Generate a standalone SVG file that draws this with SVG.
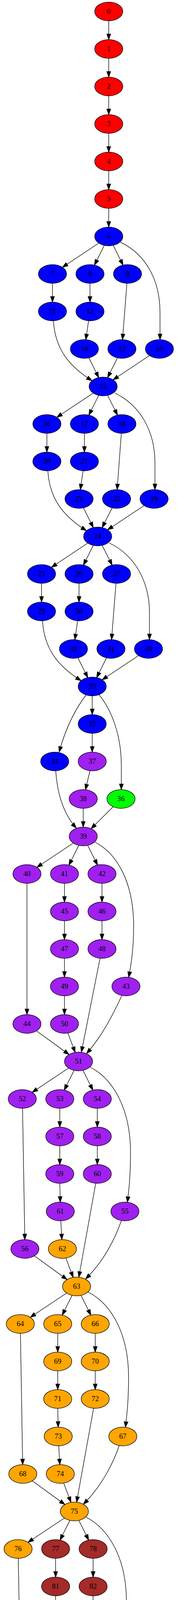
<svg xmlns="http://www.w3.org/2000/svg" width="476" height="6587" viewBox="0 0 476 6587">
<style>
.n ellipse{stroke:#000;stroke-width:1.33}
.n text{font-family:"Liberation Serif","Times New Roman",serif;font-size:18.67px;text-anchor:middle;fill:#000}
.red{fill:#ff0000}.blue{fill:#0000ff}.purple{fill:#a020f0}.green{fill:#00ff00}.orange{fill:#ffa500}.brown{fill:#a52a2a}.choc{fill:#d2691e}.crim{fill:#dc143c}
#edges path{fill:none;stroke:#000;stroke-width:1.33;marker-end:url(#ah)}
</style>
<defs>
<marker id="ah" markerUnits="userSpaceOnUse" markerWidth="14" markerHeight="10" refX="13.33" refY="4.67" orient="auto" overflow="visible" viewBox="0 0 13.33 9.33">
<path d="M0,0 L13.33,4.67 L0,9.33 Z" fill="#000" stroke="#000" stroke-width="1.33"/>
</marker>
</defs>
<rect x="0" y="0" width="476" height="6587" fill="#fff"/>
<g id="edges">
<path d="M278.3,53.3 L278.3,101.3"/>
<path d="M278.3,149.3 L278.3,197.3"/>
<path d="M278.3,245.3 L278.3,293.3"/>
<path d="M278.3,341.3 L278.3,389.3"/>
<path d="M278.3,437.3 L278.3,485.3"/>
<path d="M278.3,533.3 L278.3,581.3"/>
<path d="M252.8,622.3 L159.8,684.3"/>
<path d="M266.9,628.1 L241.7,678.5"/>
<path d="M289.7,628.1 L314.9,678.5"/>
<path d="M308.3,620.2 C375,652 409.5,720 409.5,800 L409.5,869.3"/>
<path d="M134.3,725.3 L134.3,773.3"/>
<path d="M230.3,725.3 L230.3,773.3"/>
<path d="M324.8,725.3 L313.5,869.3"/>
<path d="M136.7,821.3 C141,891 174,936 235.5,974.5"/>
<path d="M226.7,821.2 L219.6,869.4"/>
<path d="M227.4,916.1 L252.6,966.5"/>
<path d="M300.6,916.1 L275.4,966.5"/>
<path d="M382.5,910.3 L289.5,972.3"/>
<path d="M238.5,1006.3 L145.5,1068.3"/>
<path d="M252.6,1012.1 L227.4,1062.5"/>
<path d="M275.4,1012.1 L300.6,1062.5"/>
<path d="M293.5,1006 C360,1038 396.5,1105 396.5,1185 L396.5,1253.3"/>
<path d="M120,1109.3 L120,1157.3"/>
<path d="M216,1109.3 L216,1157.3"/>
<path d="M310.5,1109.3 L299.8,1253.3"/>
<path d="M122.4,1205.3 C126.7,1275 159.7,1320 221.2,1358.5"/>
<path d="M212.6,1205.1 L205.7,1253.5"/>
<path d="M213.6,1300.1 L238.7,1350.5"/>
<path d="M287,1300.1 L261.3,1350.5"/>
<path d="M368.8,1294.3 L275.5,1356.3"/>
<path d="M224.5,1390.3 L131.8,1452.3"/>
<path d="M238.7,1396.1 L213.6,1446.5"/>
<path d="M261.3,1396.1 L287,1446.5"/>
<path d="M279.5,1390 C346,1422 382.5,1489 382.5,1569 L382.5,1637.3"/>
<path d="M106.3,1493.3 L106.3,1541.3"/>
<path d="M202.3,1493.3 L202.3,1541.3"/>
<path d="M296.8,1493.3 L285.5,1637.3"/>
<path d="M108.7,1589.3 C113,1659 146,1704 207.5,1742.5"/>
<path d="M198.7,1589.2 L191.6,1637.4"/>
<path d="M199.4,1684.1 L224.6,1734.5"/>
<path d="M272.6,1684.1 L247.4,1734.5"/>
<path d="M354.5,1678.3 L261.5,1740.3"/>
<path d="M220,1779.5 C195,1812 168,1862 151.5,1925.3"/>
<path d="M236,1781.3 L236,1829.3"/>
<path d="M254,1779 C285,1818 310.5,1880 310.5,1960 L310.5,2021.3"/>
<path d="M236,1877.3 L236,1925.3"/>
<path d="M230.3,1973 L218.7,2021.6"/>
<path d="M142.7,1973.5 C147,2040 166,2087 195.3,2120"/>
<path d="M213,2069.3 L213,2117.3"/>
<path d="M289.6,2065.2 L233.1,2121.4"/>
<path d="M187.5,2158.3 L94.5,2220.3"/>
<path d="M201.6,2164.1 L176.4,2214.5"/>
<path d="M224.4,2164.1 L249.6,2214.5"/>
<path d="M243,2156 C300,2185 342,2260 342,2370 C342,2430 336,2465 329.5,2502"/>
<path d="M69,2261.3 L69,2597.3"/>
<path d="M165,2261.3 L165,2309.3"/>
<path d="M261,2261.3 L261,2309.3"/>
<path d="M165,2357.3 L165,2405.3"/>
<path d="M261,2357.3 L261,2405.3"/>
<path d="M165,2453.3 L165,2501.3"/>
<path d="M165,2549.3 L165,2597.3"/>
<path d="M256,2453.3 L208.3,2693.5"/>
<path d="M311.7,2548.5 C292,2592 262,2652 221.5,2697"/>
<path d="M93.3,2639 L176.7,2699.6"/>
<path d="M173.7,2644.6 L192.3,2694"/>
<path d="M175.5,2734.3 L82.5,2796.3"/>
<path d="M189.6,2740.1 L164.4,2790.5"/>
<path d="M212.4,2740.1 L237.6,2790.5"/>
<path d="M231,2732 C290,2762 334,2840 334,2950 C334,3010 330,3045 326,3077.7"/>
<path d="M57.7,2837.3 L63.5,3173.3"/>
<path d="M153,2837.3 L153,2885.3"/>
<path d="M249,2837.3 L249,2885.3"/>
<path d="M153,2933.3 L153,2981.3"/>
<path d="M249,2933.3 L249,2981.3"/>
<path d="M153.1,3029.3 L154.2,3077.3"/>
<path d="M245,3029.3 L201.7,3269.5"/>
<path d="M155.6,3125.3 L158.3,3173.3"/>
<path d="M310.7,3124.5 C295,3170 265,3230 219,3274"/>
<path d="M88.1,3215 L171.6,3275.6"/>
<path d="M168.5,3220.6 L187.2,3270"/>
<path d="M170.5,3310.3 L77.5,3372.3"/>
<path d="M184.5,3316.1 L159.2,3366.5"/>
<path d="M207.3,3316.1 L232.4,3366.5"/>
<path d="M226,3308 C285,3338 329,3415 329,3525 C329,3585 325,3620 321,3653.7"/>
<path d="M52.3,3413.3 L58,3749.3"/>
<path d="M147.7,3413.3 L147.7,3461.3"/>
<path d="M243.7,3413.3 L243.7,3461.3"/>
<path d="M147.7,3509.3 L147.7,3557.3"/>
<path d="M243.7,3509.3 L243.7,3557.3"/>
<path d="M147.8,3605.3 L148.9,3653.3"/>
<path d="M239.5,3605.3 L196,3845.6"/>
<path d="M150.3,3701.3 L153,3749.3"/>
<path d="M305,3701 C290,3745 260,3805 213.3,3850.7"/>
<path d="M82.6,3791 L166,3851.6"/>
<path d="M163,3796.6 L181.6,3846"/>
<path d="M164.8,3886.3 L71.8,3948.3"/>
<path d="M178.9,3892.1 L153.7,3942.5"/>
<path d="M201.7,3892.1 L226.9,3942.5"/>
<path d="M220.3,3884 C279,3914 323.5,3990 323.5,4100 C323.5,4160 319.5,4195 315.5,4229.6"/>
<path d="M46.8,3989.3 L52.7,4325.3"/>
<path d="M142.3,3989.3 L142.3,4037.3"/>
<path d="M238.3,3989.3 L238.3,4037.3"/>
<path d="M142.3,4085.3 L142.3,4133.3"/>
<path d="M238.3,4085.3 L238.3,4133.3"/>
<path d="M142.4,4181.3 L143.6,4229.3"/>
<path d="M234,4181.3 L190.5,4421.6"/>
<path d="M145,4277.3 L147.7,4325.3"/>
<path d="M300,4277 C285,4320 255,4380 208,4427"/>
<path d="M77.3,4367 L160.7,4427.6"/>
<path d="M157.7,4372.6 L176.3,4422"/>
<path d="M166.7,4468 C125,4525 104,4610 100,4709.3"/>
<path d="M185,4469.3 L185,4517.3"/>
<path d="M205,4465.3 L261,4521.3"/>
<path d="M185.7,4565.3 L187,4613.3"/>
<path d="M281,4565.3 L281,4805.3"/>
<path d="M189.3,4661.2 L192.6,4709.4"/>
<path d="M192,4757.2 L187.3,4805.4"/>
<path d="M104.3,4757.5 C112,4805 132,4865 166.5,4904.5"/>
<path d="M185,4853.3 L185,4901.3"/>
<path d="M261,4849.3 L205,4905.3"/>
<path d="M159.5,4942.3 L66.5,5004.3"/>
<path d="M173.6,4948.1 L148.4,4998.5"/>
<path d="M196.4,4948.1 L221.6,4998.5"/>
<path d="M213,4941.5 C300,4985 376,5080 376,5230 L376,5285.3"/>
<path d="M44,5045.3 L73.5,5285.5"/>
<path d="M131.4,5045 L119.9,5093.6"/>
<path d="M227.4,5045 L215.9,5093.6"/>
<path d="M249.3,5042.7 L290,5095.9"/>
<path d="M114.3,5141.3 L114.3,5189.3"/>
<path d="M134.3,5137.3 L190.3,5193.3"/>
<path d="M230.3,5137.3 L286.3,5193.3"/>
<path d="M306.3,5141.3 L306.3,5189.3"/>
<path d="M134.3,5233.3 L190.3,5289.3"/>
<path d="M210.3,5237.3 L210.3,5285.3"/>
<path d="M299,5237.5 L256.5,5382"/>
<path d="M105.6,5324.9 L219,5389.7"/>
<path d="M219,5332.6 L237.6,5382"/>
<path d="M349.2,5327.3 L270.1,5387.3"/>
<path d="M220.8,5422.3 L127.8,5484.3"/>
<path d="M234.9,5428.1 L209.7,5478.5"/>
<path d="M257.7,5428.1 L282.9,5478.5"/>
<path d="M273.3,5422 C345,5462 405,5520 425,5600 C435,5650 437,5700 437,5765.3"/>
<path d="M105,5525.3 L135.5,5765.5"/>
<path d="M192.7,5525 L181.3,5573.6"/>
<path d="M288.7,5525 L277.3,5573.6"/>
<path d="M310.6,5522.7 L351.4,5575.9"/>
<path d="M175.7,5621.3 L175.7,5669.3"/>
<path d="M195.7,5617.3 L251.7,5673.3"/>
<path d="M291.7,5617.3 L347.7,5673.3"/>
<path d="M367.7,5621.3 L367.7,5669.3"/>
<path d="M195.7,5713.3 L251.7,5769.3"/>
<path d="M271.7,5717.3 L271.7,5765.3"/>
<path d="M360.4,5717.5 L317.9,5862"/>
<path d="M167,5804.9 L280.4,5869.7"/>
<path d="M280.4,5812.6 L299,5862"/>
<path d="M410.5,5807.3 L331.5,5867.3"/>
<path d="M307.7,5909.3 L307.7,5957.3"/>
<path d="M307.7,6005.3 L307.7,6053.3"/>
<path d="M307.7,6101.3 L307.7,6149.3"/>
<path d="M307.7,6197.3 L307.7,6245.3"/>
<path d="M301.7,6293.5 L266.5,6437.6"/>
<path d="M317.9,6292.3 L340.1,6342.3"/>
<path d="M352,6389.3 L355.3,6437.3"/>
<path d="M272.4,6484.1 L297.6,6534.5"/>
<path d="M345.6,6484.1 L320.4,6534.5"/>
</g>
<g id="nodes">
<g id="n0" class="n"><ellipse class="red" cx="278.3" cy="29.3" rx="36" ry="24"/><text x="278.3" y="35.3">0</text></g>
<g id="n1" class="n"><ellipse class="red" cx="278.3" cy="125.3" rx="36" ry="24"/><text x="278.3" y="131.3">1</text></g>
<g id="n2" class="n"><ellipse class="red" cx="278.3" cy="221.3" rx="36" ry="24"/><text x="278.3" y="227.3">2</text></g>
<g id="n3" class="n"><ellipse class="red" cx="278.3" cy="317.3" rx="36" ry="24"/><text x="278.3" y="323.3">3</text></g>
<g id="n4" class="n"><ellipse class="red" cx="278.3" cy="413.3" rx="36" ry="24"/><text x="278.3" y="419.3">4</text></g>
<g id="n5" class="n"><ellipse class="red" cx="278.3" cy="509.3" rx="36" ry="24"/><text x="278.3" y="515.3">5</text></g>
<g id="n6" class="n"><ellipse class="blue" cx="278.3" cy="605.3" rx="36" ry="24"/><text x="278.3" y="611.3">6</text></g>
<g id="n7" class="n"><ellipse class="blue" cx="134.3" cy="701.3" rx="36" ry="24"/><text x="134.3" y="707.3">7</text></g>
<g id="n8" class="n"><ellipse class="blue" cx="230.3" cy="701.3" rx="36" ry="24"/><text x="230.3" y="707.3">8</text></g>
<g id="n9" class="n"><ellipse class="blue" cx="326.3" cy="701.3" rx="36" ry="24"/><text x="326.3" y="707.3">9</text></g>
<g id="n11" class="n"><ellipse class="blue" cx="134.3" cy="797.3" rx="36" ry="24"/><text x="134.3" y="803.3">11</text></g>
<g id="n12" class="n"><ellipse class="blue" cx="230.3" cy="797.3" rx="36" ry="24"/><text x="230.3" y="803.3">12</text></g>
<g id="n14" class="n"><ellipse class="blue" cx="216" cy="893.3" rx="36" ry="24"/><text x="216" y="899.3">14</text></g>
<g id="n13" class="n"><ellipse class="blue" cx="312" cy="893.3" rx="36" ry="24"/><text x="312" y="899.3">13</text></g>
<g id="n10" class="n"><ellipse class="blue" cx="408" cy="893.3" rx="36" ry="24"/><text x="408" y="899.3">10</text></g>
<g id="n15" class="n"><ellipse class="blue" cx="264" cy="989.3" rx="36" ry="24"/><text x="264" y="995.3">15</text></g>
<g id="n16" class="n"><ellipse class="blue" cx="120" cy="1085.3" rx="36" ry="24"/><text x="120" y="1091.3">16</text></g>
<g id="n17" class="n"><ellipse class="blue" cx="216" cy="1085.3" rx="36" ry="24"/><text x="216" y="1091.3">17</text></g>
<g id="n18" class="n"><ellipse class="blue" cx="312" cy="1085.3" rx="36" ry="24"/><text x="312" y="1091.3">18</text></g>
<g id="n20" class="n"><ellipse class="blue" cx="120" cy="1181.3" rx="36" ry="24"/><text x="120" y="1187.3">20</text></g>
<g id="n21" class="n"><ellipse class="blue" cx="216" cy="1181.3" rx="36" ry="24"/><text x="216" y="1187.3">21</text></g>
<g id="n23" class="n"><ellipse class="blue" cx="202.3" cy="1277.3" rx="36" ry="24"/><text x="202.3" y="1283.3">23</text></g>
<g id="n22" class="n"><ellipse class="blue" cx="298.3" cy="1277.3" rx="36" ry="24"/><text x="298.3" y="1283.3">22</text></g>
<g id="n19" class="n"><ellipse class="blue" cx="394.3" cy="1277.3" rx="36" ry="24"/><text x="394.3" y="1283.3">19</text></g>
<g id="n24" class="n"><ellipse class="blue" cx="250" cy="1373.3" rx="36" ry="24"/><text x="250" y="1379.3">24</text></g>
<g id="n25" class="n"><ellipse class="blue" cx="106.3" cy="1469.3" rx="36" ry="24"/><text x="106.3" y="1475.3">25</text></g>
<g id="n26" class="n"><ellipse class="blue" cx="202.3" cy="1469.3" rx="36" ry="24"/><text x="202.3" y="1475.3">26</text></g>
<g id="n27" class="n"><ellipse class="blue" cx="298.3" cy="1469.3" rx="36" ry="24"/><text x="298.3" y="1475.3">27</text></g>
<g id="n29" class="n"><ellipse class="blue" cx="106.3" cy="1565.3" rx="36" ry="24"/><text x="106.3" y="1571.3">29</text></g>
<g id="n30" class="n"><ellipse class="blue" cx="202.3" cy="1565.3" rx="36" ry="24"/><text x="202.3" y="1571.3">30</text></g>
<g id="n32" class="n"><ellipse class="blue" cx="188" cy="1661.3" rx="36" ry="24"/><text x="188" y="1667.3">32</text></g>
<g id="n31" class="n"><ellipse class="blue" cx="284" cy="1661.3" rx="36" ry="24"/><text x="284" y="1667.3">31</text></g>
<g id="n28" class="n"><ellipse class="blue" cx="380" cy="1661.3" rx="36" ry="24"/><text x="380" y="1667.3">28</text></g>
<g id="n33" class="n"><ellipse class="blue" cx="236" cy="1757.3" rx="36" ry="24"/><text x="236" y="1763.3">33</text></g>
<g id="n35" class="n"><ellipse class="blue" cx="236" cy="1853.3" rx="36" ry="24"/><text x="236" y="1859.3">35</text></g>
<g id="n34" class="n"><ellipse class="blue" cx="140" cy="1949.3" rx="36" ry="24"/><text x="140" y="1955.3">34</text></g>
<g id="n37" class="n"><ellipse class="purple" cx="236" cy="1949.3" rx="36" ry="24"/><text x="236" y="1955.3">37</text></g>
<g id="n38" class="n"><ellipse class="purple" cx="213" cy="2045.3" rx="36" ry="24"/><text x="213" y="2051.3">38</text></g>
<g id="n36" class="n"><ellipse class="green" cx="309.7" cy="2045.3" rx="36" ry="24"/><text x="309.7" y="2051.3">36</text></g>
<g id="n39" class="n"><ellipse class="purple" cx="213" cy="2141.3" rx="36" ry="24"/><text x="213" y="2147.3">39</text></g>
<g id="n40" class="n"><ellipse class="purple" cx="69" cy="2237.3" rx="36" ry="24"/><text x="69" y="2243.3">40</text></g>
<g id="n41" class="n"><ellipse class="purple" cx="165" cy="2237.3" rx="36" ry="24"/><text x="165" y="2243.3">41</text></g>
<g id="n42" class="n"><ellipse class="purple" cx="261" cy="2237.3" rx="36" ry="24"/><text x="261" y="2243.3">42</text></g>
<g id="n45" class="n"><ellipse class="purple" cx="165" cy="2333.3" rx="36" ry="24"/><text x="165" y="2339.3">45</text></g>
<g id="n46" class="n"><ellipse class="purple" cx="261" cy="2333.3" rx="36" ry="24"/><text x="261" y="2339.3">46</text></g>
<g id="n47" class="n"><ellipse class="purple" cx="165" cy="2429.3" rx="36" ry="24"/><text x="165" y="2435.3">47</text></g>
<g id="n48" class="n"><ellipse class="purple" cx="261" cy="2429.3" rx="36" ry="24"/><text x="261" y="2435.3">48</text></g>
<g id="n49" class="n"><ellipse class="purple" cx="165" cy="2525.3" rx="36" ry="24"/><text x="165" y="2531.3">49</text></g>
<g id="n43" class="n"><ellipse class="purple" cx="322.3" cy="2525.3" rx="36" ry="24"/><text x="322.3" y="2531.3">43</text></g>
<g id="n44" class="n"><ellipse class="purple" cx="69" cy="2621.3" rx="36" ry="24"/><text x="69" y="2627.3">44</text></g>
<g id="n50" class="n"><ellipse class="purple" cx="165" cy="2621.3" rx="36" ry="24"/><text x="165" y="2627.3">50</text></g>
<g id="n51" class="n"><ellipse class="purple" cx="201" cy="2717.3" rx="36" ry="24"/><text x="201" y="2723.3">51</text></g>
<g id="n52" class="n"><ellipse class="purple" cx="57" cy="2813.3" rx="36" ry="24"/><text x="57" y="2819.3">52</text></g>
<g id="n53" class="n"><ellipse class="purple" cx="153" cy="2813.3" rx="36" ry="24"/><text x="153" y="2819.3">53</text></g>
<g id="n54" class="n"><ellipse class="purple" cx="249" cy="2813.3" rx="36" ry="24"/><text x="249" y="2819.3">54</text></g>
<g id="n57" class="n"><ellipse class="purple" cx="153" cy="2909.3" rx="36" ry="24"/><text x="153" y="2915.3">57</text></g>
<g id="n58" class="n"><ellipse class="purple" cx="249" cy="2909.3" rx="36" ry="24"/><text x="249" y="2915.3">58</text></g>
<g id="n59" class="n"><ellipse class="purple" cx="153" cy="3005.3" rx="36" ry="24"/><text x="153" y="3011.3">59</text></g>
<g id="n60" class="n"><ellipse class="purple" cx="249" cy="3005.3" rx="36" ry="24"/><text x="249" y="3011.3">60</text></g>
<g id="n61" class="n"><ellipse class="purple" cx="154.3" cy="3101.3" rx="36" ry="24"/><text x="154.3" y="3107.3">61</text></g>
<g id="n55" class="n"><ellipse class="purple" cx="319.7" cy="3101.3" rx="36" ry="24"/><text x="319.7" y="3107.3">55</text></g>
<g id="n56" class="n"><ellipse class="purple" cx="63.7" cy="3197.3" rx="36" ry="24"/><text x="63.7" y="3203.3">56</text></g>
<g id="n62" class="n"><ellipse class="orange" cx="159.7" cy="3197.3" rx="36" ry="24"/><text x="159.7" y="3203.3">62</text></g>
<g id="n63" class="n"><ellipse class="orange" cx="196" cy="3293.3" rx="36" ry="24"/><text x="196" y="3299.3">63</text></g>
<g id="n64" class="n"><ellipse class="orange" cx="52" cy="3389.3" rx="36" ry="24"/><text x="52" y="3395.3">64</text></g>
<g id="n65" class="n"><ellipse class="orange" cx="147.7" cy="3389.3" rx="36" ry="24"/><text x="147.7" y="3395.3">65</text></g>
<g id="n66" class="n"><ellipse class="orange" cx="243.7" cy="3389.3" rx="36" ry="24"/><text x="243.7" y="3395.3">66</text></g>
<g id="n69" class="n"><ellipse class="orange" cx="147.7" cy="3485.3" rx="36" ry="24"/><text x="147.7" y="3491.3">69</text></g>
<g id="n70" class="n"><ellipse class="orange" cx="243.7" cy="3485.3" rx="36" ry="24"/><text x="243.7" y="3491.3">70</text></g>
<g id="n71" class="n"><ellipse class="orange" cx="147.7" cy="3581.3" rx="36" ry="24"/><text x="147.7" y="3587.3">71</text></g>
<g id="n72" class="n"><ellipse class="orange" cx="243.7" cy="3581.3" rx="36" ry="24"/><text x="243.7" y="3587.3">72</text></g>
<g id="n73" class="n"><ellipse class="orange" cx="149" cy="3677.3" rx="36" ry="24"/><text x="149" y="3683.3">73</text></g>
<g id="n67" class="n"><ellipse class="orange" cx="314.3" cy="3677.3" rx="36" ry="24"/><text x="314.3" y="3683.3">67</text></g>
<g id="n68" class="n"><ellipse class="orange" cx="58.3" cy="3773.3" rx="36" ry="24"/><text x="58.3" y="3779.3">68</text></g>
<g id="n74" class="n"><ellipse class="orange" cx="154.3" cy="3773.3" rx="36" ry="24"/><text x="154.3" y="3779.3">74</text></g>
<g id="n75" class="n"><ellipse class="orange" cx="190.3" cy="3869.3" rx="36" ry="24"/><text x="190.3" y="3875.3">75</text></g>
<g id="n76" class="n"><ellipse class="orange" cx="46.3" cy="3965.3" rx="36" ry="24"/><text x="46.3" y="3971.3">76</text></g>
<g id="n77" class="n"><ellipse class="brown" cx="142.3" cy="3965.3" rx="36" ry="24"/><text x="142.3" y="3971.3">77</text></g>
<g id="n78" class="n"><ellipse class="brown" cx="238.3" cy="3965.3" rx="36" ry="24"/><text x="238.3" y="3971.3">78</text></g>
<g id="n81" class="n"><ellipse class="brown" cx="142.3" cy="4061.3" rx="36" ry="24"/><text x="142.3" y="4067.3">81</text></g>
<g id="n82" class="n"><ellipse class="brown" cx="238.3" cy="4061.3" rx="36" ry="24"/><text x="238.3" y="4067.3">82</text></g>
<g id="n83" class="n"><ellipse class="brown" cx="142.3" cy="4157.3" rx="36" ry="24"/><text x="142.3" y="4163.3">83</text></g>
<g id="n84" class="n"><ellipse class="brown" cx="238.3" cy="4157.3" rx="36" ry="24"/><text x="238.3" y="4163.3">84</text></g>
<g id="n85" class="n"><ellipse class="brown" cx="143.7" cy="4253.3" rx="36" ry="24"/><text x="143.7" y="4259.3">85</text></g>
<g id="n79" class="n"><ellipse class="orange" cx="309" cy="4253.3" rx="36" ry="24"/><text x="309" y="4259.3">79</text></g>
<g id="n80" class="n"><ellipse class="brown" cx="53" cy="4349.3" rx="36" ry="24"/><text x="53" y="4355.3">80</text></g>
<g id="n86" class="n"><ellipse class="brown" cx="149" cy="4349.3" rx="36" ry="24"/><text x="149" y="4355.3">86</text></g>
<g id="n87" class="n"><ellipse class="brown" cx="185" cy="4445.3" rx="36" ry="24"/><text x="185" y="4451.3">87</text></g>
<g id="n89" class="n"><ellipse class="choc" cx="185" cy="4541.3" rx="36" ry="24"/><text x="185" y="4547.3">89</text></g>
<g id="n90" class="n"><ellipse class="choc" cx="281" cy="4541.3" rx="36" ry="24"/><text x="281" y="4547.3">90</text></g>
<g id="n91" class="n"><ellipse class="choc" cx="187.7" cy="4637.3" rx="36" ry="24"/><text x="187.7" y="4643.3">91</text></g>
<g id="n88" class="n"><ellipse class="brown" cx="98.3" cy="4733.3" rx="36" ry="24"/><text x="98.3" y="4739.3">88</text></g>
<g id="n93" class="n"><ellipse class="choc" cx="194.3" cy="4733.3" rx="36" ry="24"/><text x="194.3" y="4739.3">93</text></g>
<g id="n94" class="n"><ellipse class="choc" cx="185" cy="4829.3" rx="36" ry="24"/><text x="185" y="4835.3">94</text></g>
<g id="n92" class="n"><ellipse class="choc" cx="281" cy="4829.3" rx="36" ry="24"/><text x="281" y="4835.3">92</text></g>
<g id="n95" class="n"><ellipse class="choc" cx="185" cy="4925.3" rx="36" ry="24"/><text x="185" y="4931.3">95</text></g>
<g id="n96" class="n"><ellipse class="choc" cx="41" cy="5021.3" rx="36" ry="24"/><text x="41" y="5027.3">96</text></g>
<g id="n97" class="n"><ellipse class="choc" cx="137" cy="5021.3" rx="36" ry="24"/><text x="137" y="5027.3">97</text></g>
<g id="n98" class="n"><ellipse class="choc" cx="233" cy="5021.3" rx="36" ry="24"/><text x="233" y="5027.3">98</text></g>
<g id="n101" class="n"><ellipse class="crim" cx="114.3" cy="5117.3" rx="36" ry="24"/><text x="114.3" y="5123.3">101</text></g>
<g id="n102" class="n"><ellipse class="choc" cx="210.3" cy="5117.3" rx="36" ry="24"/><text x="210.3" y="5123.3">102</text></g>
<g id="n103" class="n"><ellipse class="choc" cx="306.3" cy="5117.3" rx="36" ry="24"/><text x="306.3" y="5123.3">103</text></g>
<g id="n104" class="n"><ellipse class="crim" cx="114.3" cy="5213.3" rx="36" ry="24"/><text x="114.3" y="5219.3">104</text></g>
<g id="n105" class="n"><ellipse class="crim" cx="210.3" cy="5213.3" rx="36" ry="24"/><text x="210.3" y="5219.3">105</text></g>
<g id="n106" class="n"><ellipse class="choc" cx="306.3" cy="5213.3" rx="36" ry="24"/><text x="306.3" y="5219.3">106</text></g>
<g id="n100" class="n"><ellipse class="choc" cx="78.3" cy="5309.3" rx="36" ry="24"/><text x="78.3" y="5315.3">100</text></g>
<g id="n107" class="n"><ellipse class="crim" cx="210.3" cy="5309.3" rx="36" ry="24"/><text x="210.3" y="5315.3">107</text></g>
<g id="n99" class="n"><ellipse class="choc" cx="373" cy="5309.3" rx="36" ry="24"/><text x="373" y="5315.3">99</text></g>
<g id="n108" class="n"><ellipse class="crim" cx="246.3" cy="5405.3" rx="36" ry="24"/><text x="246.3" y="5411.3">108</text></g>
<g id="n109" class="n"><ellipse class="crim" cx="102.3" cy="5501.3" rx="36" ry="24"/><text x="102.3" y="5507.3">109</text></g>
<g id="n110" class="n"><ellipse class="crim" cx="198.3" cy="5501.3" rx="36" ry="24"/><text x="198.3" y="5507.3">110</text></g>
<g id="n111" class="n"><ellipse class="crim" cx="294.3" cy="5501.3" rx="36" ry="24"/><text x="294.3" y="5507.3">111</text></g>
<g id="n114" class="n"><ellipse class="crim" cx="175.7" cy="5597.3" rx="36" ry="24"/><text x="175.7" y="5603.3">114</text></g>
<g id="n115" class="n"><ellipse class="crim" cx="271.7" cy="5597.3" rx="36" ry="24"/><text x="271.7" y="5603.3">115</text></g>
<g id="n116" class="n"><ellipse class="crim" cx="367.7" cy="5597.3" rx="36" ry="24"/><text x="367.7" y="5603.3">116</text></g>
<g id="n117" class="n"><ellipse class="crim" cx="175.7" cy="5693.3" rx="36" ry="24"/><text x="175.7" y="5699.3">117</text></g>
<g id="n118" class="n"><ellipse class="crim" cx="271.7" cy="5693.3" rx="36" ry="24"/><text x="271.7" y="5699.3">118</text></g>
<g id="n119" class="n"><ellipse class="crim" cx="367.7" cy="5693.3" rx="36" ry="24"/><text x="367.7" y="5699.3">119</text></g>
<g id="n113" class="n"><ellipse class="crim" cx="139.7" cy="5789.3" rx="36" ry="24"/><text x="139.7" y="5795.3">113</text></g>
<g id="n120" class="n"><ellipse class="crim" cx="271.7" cy="5789.3" rx="36" ry="24"/><text x="271.7" y="5795.3">120</text></g>
<g id="n112" class="n"><ellipse class="crim" cx="434.3" cy="5789.3" rx="36" ry="24"/><text x="434.3" y="5795.3">112</text></g>
<g id="n121" class="n"><ellipse class="crim" cx="307.7" cy="5885.3" rx="36" ry="24"/><text x="307.7" y="5891.3">121</text></g>
<g id="n122" class="n"><ellipse class="crim" cx="307.7" cy="5981.3" rx="36" ry="24"/><text x="307.7" y="5987.3">122</text></g>
<g id="n123" class="n"><ellipse class="crim" cx="307.7" cy="6077.3" rx="36" ry="24"/><text x="307.7" y="6083.3">123</text></g>
<g id="n124" class="n"><ellipse class="crim" cx="307.7" cy="6173.3" rx="36" ry="24"/><text x="307.7" y="6179.3">124</text></g>
<g id="n125" class="n"><ellipse class="crim" cx="307.7" cy="6269.3" rx="36" ry="24"/><text x="307.7" y="6275.3">125</text></g>
<g id="n127" class="n"><ellipse class="crim" cx="350.3" cy="6365.3" rx="36" ry="24"/><text x="350.3" y="6371.3">127</text></g>
<g id="n126" class="n"><ellipse class="crim" cx="261" cy="6461.3" rx="36" ry="24"/><text x="261" y="6467.3">126</text></g>
<g id="n128" class="n"><ellipse class="crim" cx="357" cy="6461.3" rx="36" ry="24"/><text x="357" y="6467.3">128</text></g>
<g id="n129" class="n"><ellipse class="crim" cx="309" cy="6557.3" rx="36" ry="24"/><text x="309" y="6563.3">129</text></g>
</g>
</svg>
